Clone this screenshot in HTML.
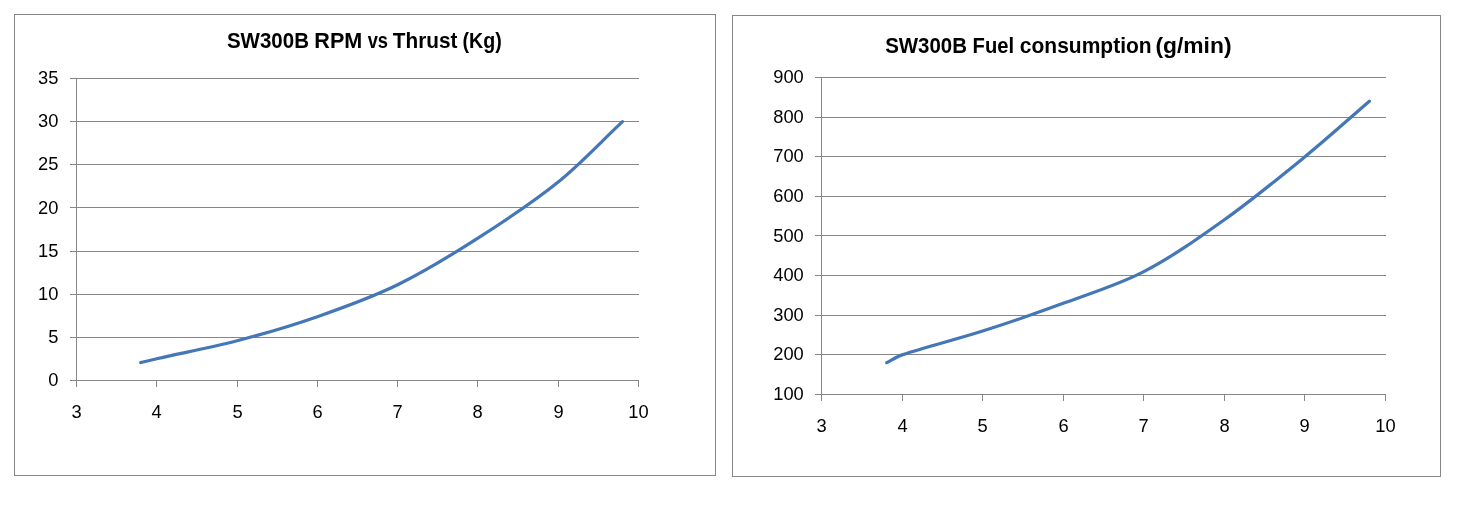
<!DOCTYPE html>
<html lang="en">
<head>
<meta charset="utf-8">
<title>SW300B charts</title>
<style>
html,body{margin:0;padding:0;background:#fff;}
body{width:1466px;height:516px;overflow:hidden;}
svg{display:block;}
.lb{font-family:"Liberation Sans", sans-serif;font-size:18.3px;fill:#000;}
.tt{font-family:"Liberation Sans", sans-serif;font-size:22px;font-weight:bold;fill:#000;}
</style>
</head>
<body>
<svg width="1466" height="516" viewBox="0 0 1466 516">
<rect width="1466" height="516" fill="#fff"/>
<rect x="14.5" y="14.5" width="701" height="461" fill="#fff" stroke="#868686" stroke-width="1"/>
<rect x="70" y="380" width="569" height="1" fill="#868686"/>
<text x="58.4" y="385.7" text-anchor="end" class="lb">0</text>
<rect x="70" y="337" width="569" height="1" fill="#868686"/>
<text x="58.4" y="342.7" text-anchor="end" class="lb">5</text>
<rect x="70" y="294" width="569" height="1" fill="#868686"/>
<text x="58.4" y="299.7" text-anchor="end" class="lb">10</text>
<rect x="70" y="251" width="569" height="1" fill="#868686"/>
<text x="58.4" y="256.7" text-anchor="end" class="lb">15</text>
<rect x="70" y="207" width="569" height="1" fill="#868686"/>
<text x="58.4" y="213.7" text-anchor="end" class="lb">20</text>
<rect x="70" y="164" width="569" height="1" fill="#868686"/>
<text x="58.4" y="169.7" text-anchor="end" class="lb">25</text>
<rect x="70" y="121" width="569" height="1" fill="#868686"/>
<text x="58.4" y="126.7" text-anchor="end" class="lb">30</text>
<rect x="70" y="78" width="569" height="1" fill="#868686"/>
<text x="58.4" y="83.7" text-anchor="end" class="lb">35</text>
<rect x="76" y="78" width="1" height="309" fill="#868686"/>
<rect x="76" y="380" width="1" height="7" fill="#868686"/>
<text x="76.5" y="418.2" text-anchor="middle" class="lb">3</text>
<rect x="156" y="380" width="1" height="7" fill="#868686"/>
<text x="156.5" y="418.2" text-anchor="middle" class="lb">4</text>
<rect x="237" y="380" width="1" height="7" fill="#868686"/>
<text x="237.5" y="418.2" text-anchor="middle" class="lb">5</text>
<rect x="317" y="380" width="1" height="7" fill="#868686"/>
<text x="317.5" y="418.2" text-anchor="middle" class="lb">6</text>
<rect x="397" y="380" width="1" height="7" fill="#868686"/>
<text x="397.5" y="418.2" text-anchor="middle" class="lb">7</text>
<rect x="477" y="380" width="1" height="7" fill="#868686"/>
<text x="477.5" y="418.2" text-anchor="middle" class="lb">8</text>
<rect x="558" y="380" width="1" height="7" fill="#868686"/>
<text x="558.5" y="418.2" text-anchor="middle" class="lb">9</text>
<rect x="638" y="380" width="1" height="7" fill="#868686"/>
<text x="638.5" y="418.2" text-anchor="middle" class="lb">10</text>
<path d="M140.73 362.55 C146.08 361.29 151.42 359.97 156.79 358.76 C183.54 352.72 210.56 347.76 237.07 340.81 C264.09 333.72 291.00 325.86 317.36 316.65 C344.52 307.16 371.84 297.34 397.64 284.72 C425.36 271.17 451.88 254.78 477.93 238.13 C505.41 220.56 532.86 202.48 558.21 182.04 C581.04 163.65 601.03 141.78 622.44 121.64" fill="none" stroke="#4477b8" stroke-width="3.2" stroke-linecap="round" stroke-linejoin="round"/>
<text y="48" class="tt"><tspan x="226.89" textLength="82.13" lengthAdjust="spacingAndGlyphs">SW300B</tspan> <tspan x="314.32" textLength="47.92" lengthAdjust="spacingAndGlyphs">RPM</tspan> <tspan x="367.65" textLength="20.34" lengthAdjust="spacingAndGlyphs">vs</tspan> <tspan x="392.75" textLength="64.65" lengthAdjust="spacingAndGlyphs">Thrust</tspan> <tspan x="462.44" textLength="39.26" lengthAdjust="spacingAndGlyphs">(Kg)</tspan></text>
<rect x="732.5" y="15.5" width="708" height="461" fill="#fff" stroke="#868686" stroke-width="1"/>
<rect x="815" y="394" width="571" height="1" fill="#868686"/>
<text x="803.75" y="399.7" text-anchor="end" class="lb">100</text>
<rect x="815" y="354" width="571" height="1" fill="#868686"/>
<text x="803.75" y="359.7" text-anchor="end" class="lb">200</text>
<rect x="815" y="315" width="571" height="1" fill="#868686"/>
<text x="803.75" y="320.7" text-anchor="end" class="lb">300</text>
<rect x="815" y="275" width="571" height="1" fill="#868686"/>
<text x="803.75" y="280.7" text-anchor="end" class="lb">400</text>
<rect x="815" y="235" width="571" height="1" fill="#868686"/>
<text x="803.75" y="241.7" text-anchor="end" class="lb">500</text>
<rect x="815" y="196" width="571" height="1" fill="#868686"/>
<text x="803.75" y="201.7" text-anchor="end" class="lb">600</text>
<rect x="815" y="156" width="571" height="1" fill="#868686"/>
<text x="803.75" y="161.7" text-anchor="end" class="lb">700</text>
<rect x="815" y="117" width="571" height="1" fill="#868686"/>
<text x="803.75" y="122.7" text-anchor="end" class="lb">800</text>
<rect x="815" y="77" width="571" height="1" fill="#868686"/>
<text x="803.75" y="82.7" text-anchor="end" class="lb">900</text>
<rect x="821" y="77" width="1" height="324" fill="#868686"/>
<rect x="821" y="394" width="1" height="7" fill="#868686"/>
<text x="821.5" y="432.2" text-anchor="middle" class="lb">3</text>
<rect x="902" y="394" width="1" height="7" fill="#868686"/>
<text x="902.5" y="432.2" text-anchor="middle" class="lb">4</text>
<rect x="982" y="394" width="1" height="7" fill="#868686"/>
<text x="982.5" y="432.2" text-anchor="middle" class="lb">5</text>
<rect x="1063" y="394" width="1" height="7" fill="#868686"/>
<text x="1063.5" y="432.2" text-anchor="middle" class="lb">6</text>
<rect x="1143" y="394" width="1" height="7" fill="#868686"/>
<text x="1143.5" y="432.2" text-anchor="middle" class="lb">7</text>
<rect x="1224" y="394" width="1" height="7" fill="#868686"/>
<text x="1224.5" y="432.2" text-anchor="middle" class="lb">8</text>
<rect x="1304" y="394" width="1" height="7" fill="#868686"/>
<text x="1304.5" y="432.2" text-anchor="middle" class="lb">9</text>
<rect x="1385" y="394" width="1" height="7" fill="#868686"/>
<text x="1385.5" y="432.2" text-anchor="middle" class="lb">10</text>
<path d="M886.76 362.68 C891.87 360.08 896.64 356.66 902.07 354.88 C928.60 346.14 955.98 339.62 982.64 331.10 C1009.69 322.45 1036.57 313.19 1063.21 303.36 C1090.29 293.38 1118.29 284.89 1143.79 271.66 C1172.01 257.02 1198.37 238.28 1224.36 219.75 C1252.09 199.98 1278.53 178.31 1304.93 156.75 C1326.88 138.82 1347.90 119.77 1369.39 101.27" fill="none" stroke="#4477b8" stroke-width="3.2" stroke-linecap="round" stroke-linejoin="round"/>
<text y="52.7" class="tt"><tspan x="885.14" textLength="81.83" lengthAdjust="spacingAndGlyphs">SW300B</tspan> <tspan x="972.59" textLength="41.46" lengthAdjust="spacingAndGlyphs">Fuel</tspan> <tspan x="1019.83" textLength="131.79" lengthAdjust="spacingAndGlyphs">consumption</tspan> <tspan x="1155.42" textLength="76.11" lengthAdjust="spacingAndGlyphs">(g/min)</tspan></text>
</svg>
</body>
</html>
